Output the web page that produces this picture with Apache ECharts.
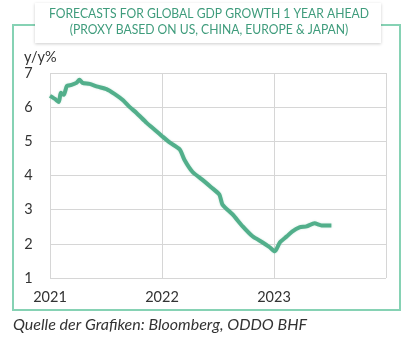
<!DOCTYPE html>
<html><head><meta charset="utf-8">
<script src="https://cdn.jsdelivr.net/npm/echarts@6/dist/echarts.min.js"></script>
<style>html,body{margin:0;padding:0;background:#fff;}#c{width:402px;height:345px;}</style>
</head><body><div id="c"></div>
<script>
const dates = ['2021-01-01','2021-01-17','2021-01-30','2021-02-05','2021-02-15','2021-02-25','2021-03-12','2021-03-28','2021-04-07','2021-04-17','2021-05-10','2021-06-05','2021-07-04','2021-07-30','2021-08-26','2021-09-18','2021-10-10','2021-11-12','2021-12-08','2022-01-04','2022-01-27','2022-02-28','2022-03-15','2022-04-10','2022-05-12','2022-06-11','2022-07-07','2022-07-17','2022-08-19','2022-09-21','2022-10-23','2022-11-25','2022-12-18','2023-01-04','2023-01-20','2023-02-12','2023-03-01','2023-03-25','2023-04-17','2023-05-13','2023-06-05','2023-07-07'];
const gdpForecast = [6.33,6.24,6.15,6.42,6.36,6.62,6.65,6.71,6.8,6.71,6.68,6.6,6.53,6.39,6.21,6.0,5.83,5.54,5.34,5.13,4.96,4.76,4.46,4.11,3.88,3.65,3.44,3.15,2.86,2.51,2.22,2.04,1.9,1.78,2.04,2.22,2.36,2.48,2.51,2.6,2.54,2.54];
const yearTicks = [2021, 2022, 2023];
const titleLines = ['FORECASTS FOR GLOBAL GDP GROWTH 1 YEAR AHEAD', '(PROXY BASED ON US, CHINA, EUROPE & JAPAN)'];
const unitLabel = 'y/y%';
const sourceText = 'Quelle der Grafiken: Bloomberg, ODDO BHF';

function toYear(s){
  const [y,m,d] = s.split('-').map(Number);
  const start = Date.UTC(y,0,1), end = Date.UTC(y+1,0,1);
  return y + (Date.UTC(y,m-1,d)-start)/(end-start);
}
const seriesData = dates.map((d,i)=>[toYear(d), gdpForecast[i]]);

const chart = echarts.init(document.getElementById('c'), null, {renderer:'canvas'});
const font = 'Lato, "Open Sans", sans-serif';
chart.setOption({
  animation:false,
  grid:{left:50,right:16,top:73,bottom:67},
  xAxis:{type:'value',min:2021,max:2024,interval:1,
    axisLine:{show:false},axisTick:{show:false},
    axisLabel:{color:'#333',fontFamily:font,fontSize:14.5,margin:12,
      formatter:v=>yearTicks.includes(v)?String(v):''},
    splitLine:{show:true,lineStyle:{color:'#d6d6d6',width:1}}},
  yAxis:{type:'value',min:1,max:7,interval:1,
    axisLine:{show:false},axisTick:{show:false},
    axisLabel:{color:'#333',fontFamily:font,fontSize:14.5,margin:21.5,align:'center'},
    splitLine:{show:true,lineStyle:{color:'#d6d6d6',width:1}}},
  series:[{type:'line',data:seriesData,showSymbol:false,smooth:0.2,
    lineStyle:{color:'#52af8b',width:4,shadowColor:'rgba(79,174,137,0.35)',shadowBlur:2}}],
  graphic:[
    {type:'rect',shape:{x:13,y:25,width:387,height:285},style:{fill:'none',stroke:'#86d2b4',lineWidth:2},z:-1},
    {type:'rect',shape:{x:35,y:3,width:346,height:40},style:{fill:'#fff',shadowColor:'rgba(0,0,0,0.2)',shadowBlur:3,shadowOffsetY:1},z:10},
    {type:'text',x:209,y:6,scaleX:0.9,z:11,style:{text:titleLines.join('\n'),fill:'#3f9c7c',font:'13.5px '+font,align:'center',verticalAlign:'top',lineHeight:16}},
    {type:'text',left:24,top:50,z:11,style:{text:unitLabel,fill:'#333',font:'14.5px '+font}},
    {type:'text',left:13,top:317,z:11,style:{text:sourceText,fill:'#333',font:'italic 16px '+font}}
  ]
});
</script></body></html>
